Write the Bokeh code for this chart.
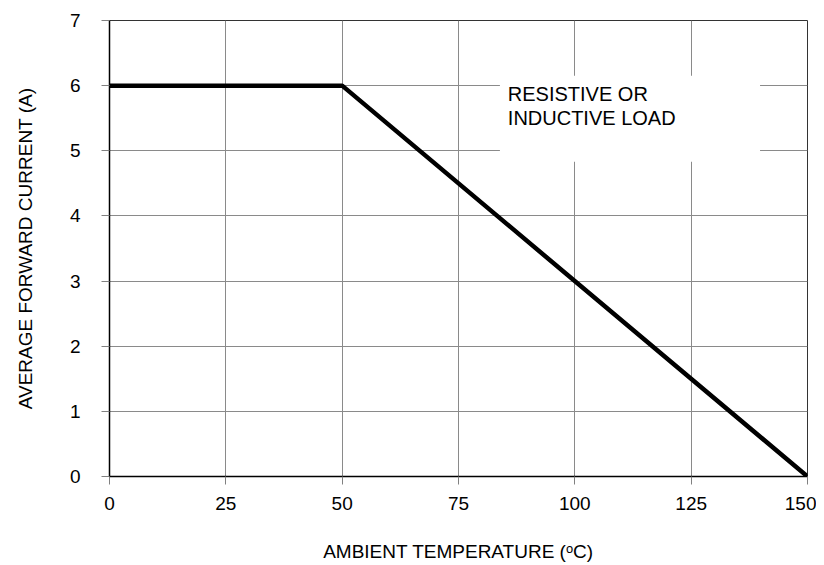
from bokeh.plotting import figure
from bokeh.embed import file_html
from bokeh.resources import INLINE
from bokeh.models import FixedTicker, Range1d
from bokeh.core.properties import value

# Data
temperature = [0, 50, 150]
current = [6, 6, 0]
x_ticks = [0, 25, 50, 75, 100, 125, 150]
y_ticks = [0, 1, 2, 3, 4, 5, 6, 7]
note = "RESISTIVE OR\nINDUCTIVE LOAD"

FONT = "Liberation Sans"

p = figure(
    width=816, height=557,
    frame_width=698, frame_height=456,
    min_border_left=109, min_border_top=20, min_border_right=9, min_border_bottom=81,
    x_range=Range1d(0, 150), y_range=Range1d(0, 7),
    output_backend="svg", toolbar_location=None,
)
p.background_fill_color = "white"
p.border_fill_color = "white"
p.outline_line_color = "#333333"
p.outline_line_width = 1

xax = p.xaxis[0]
yax = p.yaxis[0]
xax.ticker = FixedTicker(ticks=x_ticks)
yax.ticker = FixedTicker(ticks=y_ticks)

for ax in (xax, yax):
    ax.axis_line_color = "black"
    ax.axis_line_width = 1.5
    ax.major_tick_line_color = "#808080"
    ax.major_tick_out = 8
    ax.major_tick_in = 0
    ax.minor_tick_line_color = None
    ax.major_label_text_font = FONT
    ax.major_label_text_font_size = "19px"
    ax.major_label_text_color = "black"
    ax.axis_label_text_font = FONT
    ax.axis_label_text_font_size = "19px"
    ax.axis_label_text_font_style = "normal"
    ax.axis_label_text_color = "black"

xax.axis_label = "AMBIENT TEMPERATURE (\u1d52C)"
yax.axis_label = "AVERAGE FORWARD CURRENT (A)"
xax.major_label_standoff = 12
yax.major_label_standoff = 21
xax.axis_label_standoff = 28
yax.axis_label_standoff = 31

p.grid.grid_line_color = "#8a8a8a"
p.grid.grid_line_width = 1

# white box behind the note
p.quad(left=[83.9], right=[139.8], bottom=[4.83], top=[6.15],
       fill_color="white", line_color=None)

p.line(temperature, current, line_color="black", line_width=4.5)

p.text(x=[85.6], y=[6.04], text=[note],
       text_font=value(FONT), text_font_size="20px",
       text_baseline="top", text_align="left", text_color="black",
       text_line_height=1.08)

open("out.html", "w").write(file_html(p, INLINE))
